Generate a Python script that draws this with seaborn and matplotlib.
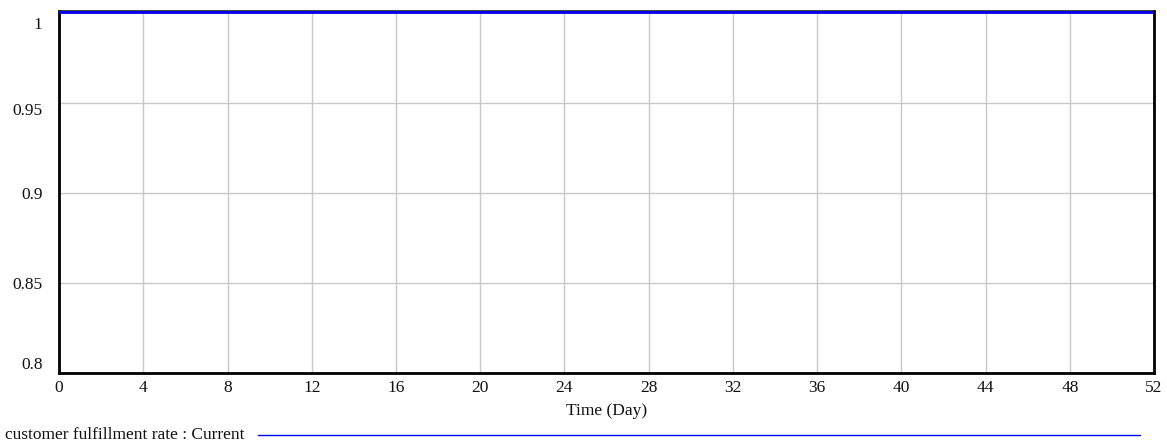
import matplotlib
matplotlib.use('Agg')
import matplotlib.pyplot as plt
import matplotlib.transforms as mtransforms
from matplotlib.lines import Line2D
import seaborn as sns
import pandas as pd

# Data (Vensim-style run output)
time_days = [0, 4, 8, 12, 16, 20, 24, 28, 32, 36, 40, 44, 48, 52]
fulfillment_rate = [1.0, 1.0, 1.0, 1.0, 1.0, 1.0, 1.0, 1.0, 1.0, 1.0, 1.0, 1.0, 1.0, 1.0]
x_ticks = [0, 4, 8, 12, 16, 20, 24, 28, 32, 36, 40, 44, 48, 52]
y_ticks = [0.8, 0.85, 0.9, 0.95, 1.0]
y_tick_labels = ['0.8', '0.85', '0.9', '0.95', '1']
series_label = 'customer fulfillment rate : Current'

LINE_COLOR = '#0000ee'
TEXT_COLOR = '#111111'
FS = 12.5

sns.set_style('white')
plt.rcParams['font.family'] = ['Liberation Serif', 'DejaVu Serif']

df = pd.DataFrame({'time': time_days, 'rate': fulfillment_rate})

fig = plt.figure(figsize=(11.67, 4.43), dpi=100)
ax = fig.add_axes([0.0506, 0.158, 0.9383, 0.8172])

sns.lineplot(data=df, x='time', y='rate', ax=ax, color=LINE_COLOR,
             linewidth=2.0, zorder=5)

ax.set_xlim(0, 52)
# tiny headroom so the run line sits just under the frame, as in Vensim
ax.set_ylim(0.8, 1.0008)
ax.set_xticks(x_ticks)
ax.set_yticks(y_ticks)
ax.set_yticklabels(y_tick_labels)
ax.tick_params(length=0, labelsize=FS, colors=TEXT_COLOR)
ax.tick_params(axis='x', pad=5)
ax.tick_params(axis='y', pad=12)
ax.grid(True, color='#c8c8c8', linewidth=1)
ax.set_xlabel('Time (Day)', fontsize=FS, color=TEXT_COLOR, labelpad=5)
ax.set_ylabel('')

# keep the end labels inside the frame like the original tool does
ylabels = ax.get_yticklabels()
ylabels[-1].set_va('top')
ylabels[-1].set_transform(ylabels[-1].get_transform() +
                          mtransforms.ScaledTranslation(0, -3 / 72, fig.dpi_scale_trans))
ylabels[0].set_va('bottom')
ylabels[-2].set_va('top')

for side in ['left', 'bottom', 'right']:
    ax.spines[side].set_visible(True)
    ax.spines[side].set_color('black')
    ax.spines[side].set_linewidth(2)
ax.spines['top'].set_color('#222222')
ax.spines['top'].set_linewidth(1.2)

# legend row at the bottom, Vensim-style
fig.text(5 / 1167, 1 - 435 / 443, series_label, fontsize=FS, color=TEXT_COLOR,
         va='center', ha='left')
fig.add_artist(Line2D([258 / 1167, 1140 / 1167], [1 - 435 / 443, 1 - 435 / 443],
                      transform=fig.transFigure, color=LINE_COLOR, linewidth=1))

fig.savefig('out.png', dpi=100)
plt.close(fig)
